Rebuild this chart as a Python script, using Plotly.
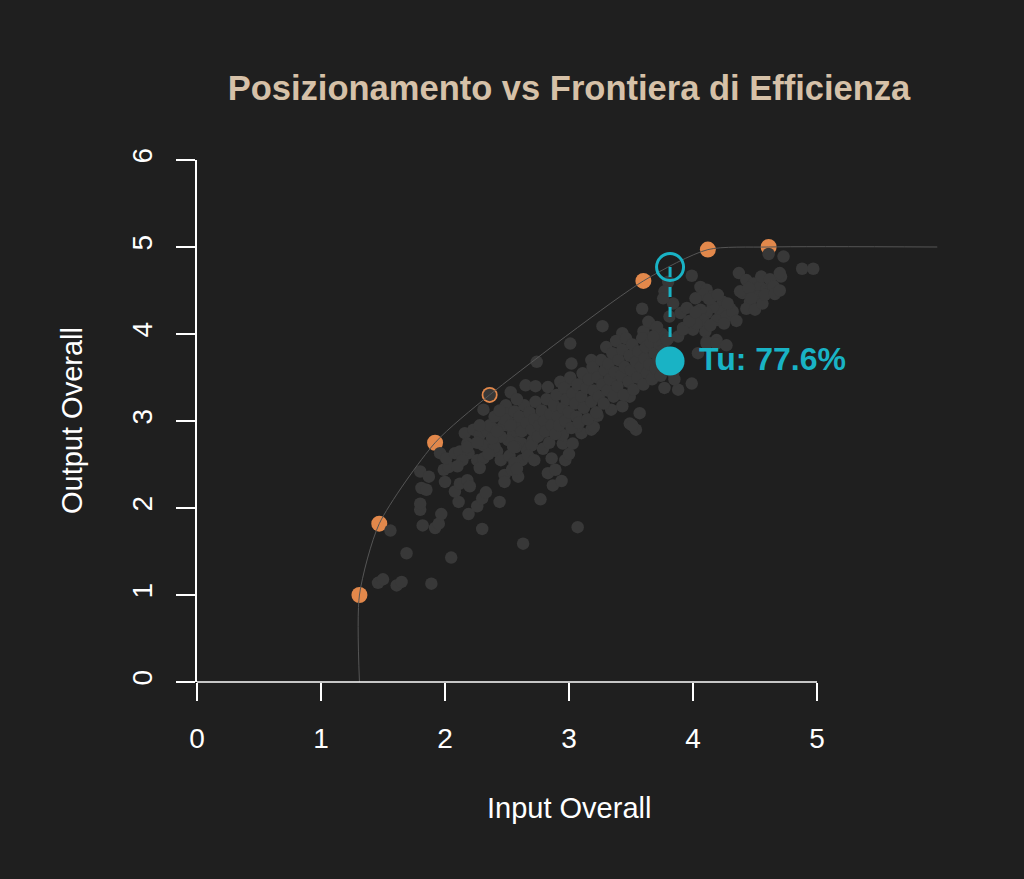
import plotly.graph_objects as go

# ---------------- data ----------------
frontier_x = [1.31, 1.47, 1.92, 2.36, 3.60, 4.12, 4.61]
frontier_y = [1.00, 1.82, 2.75, 3.30, 4.61, 4.97, 5.00]

# frontier curve knots (start at the axis, flat tail to the right)
curve_x = [1.31, 1.31, 1.47, 1.92, 2.36, 3.60, 4.12, 4.61, 5.97]
curve_y = [0.00, 1.00, 1.82, 2.75, 3.30, 4.61, 4.97, 5.00, 5.00]

others_xy = [
    (1.46, 1.14), (1.50, 1.18), (1.61, 1.11), (1.65, 1.15), (1.89, 1.13), (1.69, 1.48), (2.05, 1.43),
    (1.56, 1.74), (1.82, 1.80), (1.92, 1.77), (1.95, 1.82), (2.30, 1.76), (2.63, 1.59), (3.07, 1.78),
    (1.97, 1.93), (1.80, 1.98), (1.80, 2.05), (2.11, 2.07), (2.19, 1.93), (2.26, 2.02), (2.30, 2.11),
    (2.33, 2.18), (2.44, 2.07), (2.77, 2.10), (1.81, 2.23), (1.85, 2.21), (1.80, 2.42), (1.87, 2.36),
    (2.00, 2.30), (2.08, 2.19), (2.12, 2.28), (2.18, 2.32), (2.20, 2.25), (1.99, 2.44), (2.03, 2.47),
    (1.96, 2.63), (2.01, 2.57), (2.08, 2.63), (2.12, 2.65), (2.19, 2.63), (2.26, 2.55), (2.31, 2.57),
    (2.28, 2.46), (2.16, 2.86), (2.23, 2.90), (2.28, 2.84), (2.34, 2.88), (2.39, 2.91), (2.18, 2.74),
    (2.31, 2.72), (2.39, 2.74), (2.42, 2.65), (2.40, 2.70), (2.48, 2.38), (2.54, 2.44), (2.59, 2.36),
    (2.48, 2.30), (2.83, 2.40), (2.89, 2.44), (2.87, 2.26), (2.94, 2.31), (2.86, 2.57), (2.97, 2.55),
    (3.00, 2.62), (2.50, 2.95), (2.55, 2.86), (2.62, 2.74), (2.66, 2.67), (2.71, 2.78), (2.77, 2.86),
    (2.82, 2.91), (2.59, 2.75), (2.51, 2.78), (2.54, 2.97), (2.31, 3.13), (2.36, 3.30), (2.53, 3.33),
    (2.49, 3.18), (2.51, 3.09), (2.56, 3.11), (2.65, 3.41), (2.73, 3.40), (2.83, 3.39), (2.74, 3.68),
    (3.02, 3.66), (3.01, 3.89), (3.12, 3.52), (3.20, 3.59), (3.30, 3.61), (2.95, 2.74), (3.03, 2.74),
    (2.95, 2.84), (3.10, 2.86), (3.18, 2.90), (3.49, 2.97), (3.54, 2.90), (3.57, 3.09), (3.34, 3.13),
    (3.23, 3.06), (3.43, 3.17), (3.77, 3.38), (3.88, 3.36), (3.99, 3.43), (3.27, 4.09), (3.43, 4.01),
    (3.59, 4.29), (3.65, 4.12), (3.73, 4.01), (3.60, 4.03), (3.18, 3.70), (3.01, 3.47), (3.51, 2.95),
    (3.49, 3.28), (3.22, 3.09), (3.20, 2.93), (3.06, 2.93),
    # dense core 2.55 - 2.9
    (2.58, 2.95), (2.60, 3.05), (2.62, 2.88), (2.64, 3.18), (2.66, 2.98), (2.68, 3.10), (2.70, 2.90),
    (2.70, 2.72), (2.72, 3.02), (2.73, 3.22), (2.75, 2.82), (2.76, 2.95), (2.78, 3.12), (2.79, 2.68),
    (2.80, 3.00), (2.81, 2.88), (2.82, 3.25), (2.84, 2.75), (2.85, 3.08), (2.86, 2.95), (2.88, 3.18),
    (2.89, 2.85), (2.62, 2.55), (2.67, 2.60), (2.72, 2.55), (2.58, 3.25), (2.57, 2.70),
    # dense core 2.9 - 3.25
    (2.90, 3.30), (2.91, 3.05), (2.92, 2.95), (2.93, 3.45), (2.95, 3.15), (2.96, 3.38), (2.97, 3.00),
    (2.98, 3.25), (3.00, 3.10), (3.01, 3.50), (3.02, 2.92), (3.03, 3.32), (3.05, 3.20), (3.06, 3.05),
    (3.07, 3.42), (3.08, 2.98), (3.10, 3.28), (3.11, 3.55), (3.12, 3.15), (3.14, 3.38), (3.15, 3.02),
    (3.16, 3.48), (3.18, 3.22), (3.19, 3.62), (3.20, 3.35), (3.22, 3.10), (3.23, 3.50), (3.24, 3.28),
    # dense core 3.25 - 3.6
    (3.26, 3.70), (3.27, 3.42), (3.28, 3.20), (3.29, 3.58), (3.30, 3.85), (3.31, 3.35), (3.32, 3.66),
    (3.33, 3.48), (3.35, 3.78), (3.36, 3.28), (3.37, 3.56), (3.38, 3.92), (3.39, 3.40), (3.40, 3.70),
    (3.42, 3.52), (3.43, 3.82), (3.44, 3.30), (3.45, 3.62), (3.46, 3.95), (3.48, 3.45), (3.49, 3.75),
    (3.50, 3.58), (3.51, 3.88), (3.52, 3.36), (3.54, 3.68), (3.55, 3.50), (3.56, 3.80), (3.58, 3.62),
    (3.59, 3.95), (3.60, 3.42),
    # dense core 3.6 - 3.86
    (3.61, 3.72), (3.62, 3.85), (3.63, 3.55), (3.65, 3.65), (3.66, 3.90), (3.67, 3.48), (3.69, 3.78),
    (3.70, 3.60), (3.72, 3.70), (3.73, 3.88), (3.74, 3.52), (3.76, 3.82), (3.78, 3.62), (3.80, 3.95),
    (3.75, 4.00), (3.84, 3.55), (3.86, 3.75), (3.85, 3.48),
    # band 2.0 - 2.55
    (2.47, 2.95), (2.45, 2.82), (2.48, 3.02), (2.36, 2.95), (2.38, 2.80), (2.42, 2.88), (2.35, 2.62),
    (2.45, 2.55), (2.52, 2.60), (2.55, 2.70), (2.40, 3.05), (2.44, 3.12), (2.56, 2.52), (2.58, 2.45),
    (2.53, 2.95), (2.28, 2.95), (2.18, 2.70), (2.14, 2.55), (2.10, 2.48), (2.26, 2.75),
    # upper right
    (3.99, 4.67), (4.37, 4.70), (4.61, 4.92), (4.73, 4.89), (4.88, 4.75), (4.97, 4.75), (4.71, 4.66),
    (3.80, 4.60), (4.43, 4.62), (4.49, 4.58), (4.54, 4.54), (4.59, 4.51), (4.63, 4.51), (4.46, 4.47),
    (4.40, 4.47), (4.53, 4.43), (4.46, 4.37), (4.43, 4.29), (4.38, 4.49), (4.06, 4.54), (4.11, 4.51),
    (4.15, 4.43), (4.08, 4.45), (4.02, 4.41), (4.24, 4.37), (4.30, 4.29), (4.22, 4.26), (4.16, 4.31),
    (4.11, 4.24), (4.06, 4.28), (4.08, 4.16), (4.19, 4.16), (4.27, 4.20), (4.32, 4.26), (4.00, 4.05),
    (4.10, 4.03), (4.19, 3.93), (4.11, 3.91), (4.03, 4.12), (3.90, 4.24), (3.92, 4.07), (3.84, 4.35),
    (3.81, 4.20), (3.77, 4.49), (3.76, 4.41), (3.64, 4.14), (3.71, 4.08), (3.68, 3.97), (3.79, 3.93),
    (3.88, 3.97), (3.92, 4.05), (4.11, 3.89), (4.19, 3.89), (4.27, 3.87), (4.04, 3.78), (4.55, 4.66),
    (4.62, 4.63), (4.70, 4.70), (4.45, 4.53), (4.47, 4.41), (3.95, 4.30), (3.97, 4.15), (4.02, 4.25),
    (4.13, 4.40), (4.14, 4.10), (4.20, 4.45), (4.25, 4.12), (4.28, 4.35), (4.35, 4.15), (4.50, 4.28),
    (4.56, 4.35), (4.58, 4.45), (4.65, 4.55), (4.66, 4.46), (4.70, 4.50),
]
others_x = [p[0] for p in others_xy]
others_y = [p[1] for p in others_xy]

you_x = 3.815
you_y = 3.69
you_target_y = 4.77
you_label = "Tu: 77.6%"

title_text = "Posizionamento vs Frontiera di Efficienza"
x_title = "Input Overall"
y_title = "Output Overall"
x_ticks = [0, 1, 2, 3, 4, 5]
y_ticks = [0, 1, 2, 3, 4, 5, 6]

# ---------------- style ----------------
BG = "#1f1f1f"
GRAY = "#383838"
ORANGE = "#e2884b"
CYAN = "#19b3c5"
BEIGE = "#d6c1a8"
FONT = "Liberation Sans, Arial, Helvetica, sans-serif"

fig = go.Figure()

fig.add_trace(go.Scatter(x=frontier_x, y=frontier_y, mode="markers",
                         marker=dict(size=16, color=ORANGE, line=dict(width=0)),
                         hoverinfo="skip", cliponaxis=False))
fig.add_trace(go.Scatter(x=others_x, y=others_y, mode="markers",
                         marker=dict(size=12.5, color=GRAY, line=dict(width=0)),
                         hoverinfo="skip"))
fig.add_trace(go.Scatter(x=curve_x, y=curve_y, mode="lines",
                         line=dict(color="#555555", width=1, shape="spline", smoothing=0.7),
                         hoverinfo="skip"))
fig.add_trace(go.Scatter(x=[you_x, you_x], y=[you_target_y, you_y], mode="lines",
                         line=dict(color=CYAN, width=3, dash="10px,10px"),
                         hoverinfo="skip"))
fig.add_trace(go.Scatter(x=[you_x], y=[you_target_y], mode="markers",
                         marker=dict(size=27, color="rgba(0,0,0,0)", line=dict(color=CYAN, width=3)),
                         hoverinfo="skip"))
fig.add_trace(go.Scatter(x=[you_x], y=[you_y], mode="markers",
                         marker=dict(size=29, color=CYAN, line=dict(width=0)),
                         hoverinfo="skip"))

fig.add_annotation(x=you_x, y=you_y, xref="x", yref="y", text=f"<b>{you_label}</b>",
                   showarrow=False, xanchor="left", yanchor="middle", xshift=27, yshift=2,
                   font=dict(family=FONT, size=32, color=CYAN))

# axis titles
fig.add_annotation(x=0.5, y=-0.2414, xref="paper", yref="paper", text=x_title,
                   showarrow=False, xanchor="center", yanchor="middle",
                   font=dict(family=FONT, size=29, color="white"))
fig.add_annotation(x=-0.168, y=0.5, xref="paper", yref="paper", text=y_title,
                   showarrow=False, xanchor="center", yanchor="middle", textangle=-90,
                   font=dict(family=FONT, size=29, color="white"))

# x axis line only spans the tick range 0..5 (R style)
fig.add_shape(type="line", xref="paper", yref="paper", x0=0, x1=5 / 6, y0=0, y1=0,
              line=dict(color="white", width=1.6))

fig.update_layout(
    width=1024, height=879, autosize=False,
    paper_bgcolor=BG, plot_bgcolor=BG,
    margin=dict(l=197, r=83, t=160, b=197),
    showlegend=False,
    title=dict(text=f"<b>{title_text}</b>", x=0.5, xref="paper", y=1 - 88 / 879, yref="container",
               xanchor="center", yanchor="middle",
               font=dict(family=FONT, size=34.5, color=BEIGE)),
    font=dict(family=FONT, color="white"),
)
fig.update_xaxes(range=[0, 6], tickvals=x_ticks, ticktext=[str(v) for v in x_ticks],
                 showgrid=False, zeroline=False, showline=False,
                 ticks="outside", ticklen=18, tickwidth=1.6, tickcolor="white",
                 tickfont=dict(family=FONT, size=28, color="white"), ticklabelstandoff=13)
fig.update_yaxes(range=[0, 6], tickvals=y_ticks, ticktext=[str(v) for v in y_ticks],
                 showgrid=False, zeroline=False, showline=True, linecolor="white", linewidth=1.6,
                 ticks="outside", ticklen=19, tickwidth=1.6, tickcolor="white", tickangle=-90,
                 tickfont=dict(family=FONT, size=28, color="white"), ticklabelstandoff=13)

fig.write_html("out.html", config={"displayModeBar": False},
               post_script="document.body.style.margin='0';document.body.style.overflow='hidden';")
